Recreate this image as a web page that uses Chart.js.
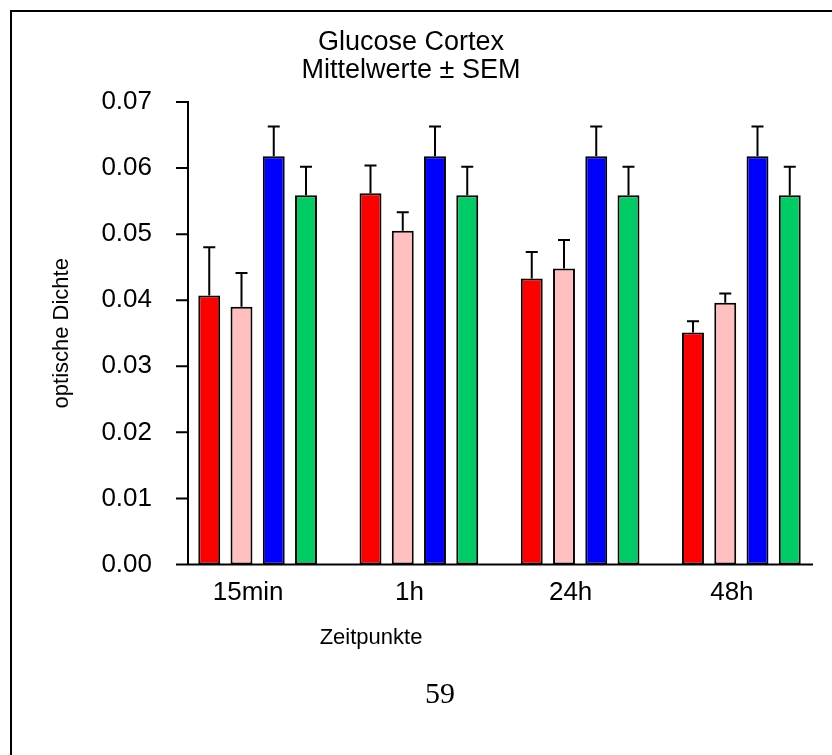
<!DOCTYPE html>
<html><head><meta charset="utf-8">
<script src="https://cdn.jsdelivr.net/npm/chart.js@4.4.1/dist/chart.umd.min.js"></script>
<style>
html,body{margin:0;padding:0;background:#fff;}
#wrap{position:relative;width:832px;height:755px;overflow:hidden;background:#fff;}
#frame{position:absolute;left:10px;top:10px;width:900px;height:900px;border-left:2px solid #000;border-top:2px solid #000;}
#page{position:absolute;left:390px;width:100px;top:676px;text-align:center;font-family:"Liberation Serif","Times New Roman",serif;font-size:30px;line-height:34px;color:#000;}
canvas{position:absolute;left:0;top:0;}
</style></head><body>
<div id="wrap"><div id="frame"></div><canvas id="c" width="832" height="755"></canvas><div id="page">59</div></div>
<script>
const categories = ['15min', '1h', '24h', '48h'];
const redValues  = [0.0407, 0.0562, 0.0433, 0.0351];
const redSem     = [0.0073, 0.0042, 0.0040, 0.0017];
const pinkValues = [0.0390, 0.0505, 0.0448, 0.0396];
const pinkSem    = [0.0051, 0.0028, 0.0043, 0.0014];
const blueValues = [0.0618, 0.0618, 0.0618, 0.0618];
const blueSem    = [0.0045, 0.0045, 0.0045, 0.0045];
const greenValues= [0.0559, 0.0559, 0.0559, 0.0559];
const greenSem   = [0.0043, 0.0043, 0.0043, 0.0043];
const yTicks = [0.00, 0.01, 0.02, 0.03, 0.04, 0.05, 0.06, 0.07];
const titleLines = ['Glucose Cortex', 'Mittelwerte \u00B1 SEM'];
const yTitle = 'optische Dichte';
const xTitle = 'Zeitpunkte';

const FONT = '"Liberation Sans", Arial, sans-serif';

const errorBars = {
  id: 'errorBars',
  afterDatasetsDraw(chart) {
    const ctx = chart.ctx, y = chart.scales.y;
    ctx.save();
    ctx.strokeStyle = '#000';
    ctx.lineWidth = 2;
    chart.data.datasets.forEach((ds, i) => {
      const meta = chart.getDatasetMeta(i);
      meta.data.forEach((bar, j) => {
        const top = y.getPixelForValue(ds.data[j] + ds.sem[j]);
        ctx.beginPath();
        ctx.moveTo(bar.x, bar.y);
        ctx.lineTo(bar.x, top);
        ctx.moveTo(bar.x - 6, top);
        ctx.lineTo(bar.x + 6, top);
        ctx.stroke();
      });
    });
    ctx.restore();
  }
};

const axesLines = {
  id: 'axesLines',
  afterDraw(chart) {
    const ctx = chart.ctx, y = chart.scales.y, a = chart.chartArea;
    const axisX = a.left + 11;
    const y0 = y.getPixelForValue(0);
    ctx.save();
    ctx.strokeStyle = '#000';
    ctx.lineWidth = 2;
    ctx.beginPath();
    ctx.moveTo(a.left - 1, y0);
    ctx.lineTo(a.right - 9, y0);
    ctx.moveTo(axisX, y.getPixelForValue(yTicks[yTicks.length - 1]) - 1);
    ctx.lineTo(axisX, y0);
    yTicks.forEach(v => {
      const py = y.getPixelForValue(v);
      ctx.moveTo(axisX - 12, py);
      ctx.lineTo(axisX, py);
    });
    ctx.stroke();
    ctx.fillStyle = '#000';
    ctx.font = '22px ' + FONT;
    ctx.textAlign = 'center';
    ctx.textBaseline = 'middle';
    ctx.fillText(xTitle, a.left + 194, 638);
    ctx.restore();
  }
};

const mk = (label, data, sem, color) => ({
  label, data, sem, backgroundColor: color, borderColor: '#000', borderWidth: 2, borderSkipped: false,
  categoryPercentage: 0.8, barPercentage: 0.68
});

new Chart(document.getElementById('c'), {
  type: 'bar',
  data: {
    labels: categories,
    datasets: [
      mk('A', redValues, redSem, '#ff0000'),
      mk('B', pinkValues, pinkSem, '#ffbfbf'),
      mk('C', blueValues, blueSem, '#0000ff'),
      mk('D', greenValues, greenSem, '#00cc66')
    ]
  },
  options: {
    responsive: false,
    animation: false,
    layout: { padding: { left: 0, right: 10, top: 0, bottom: 0 } },
    plugins: {
      legend: { display: false },
      tooltip: { enabled: false },
      title: {
        display: true, text: titleLines, color: '#000',
        font: { family: FONT, size: 27, weight: 'normal', lineHeight: 1.037 },
        padding: { top: 29, bottom: 17 }
      }
    },
    scales: {
      x: {
        grid: { display: false, drawTicks: false },
        border: { display: false },
        afterFit: s => { s.height = 190.5; },
        ticks: { color: '#000', font: { family: FONT, size: 26 }, padding: 13, labelOffset: -9.5 }
      },
      y: {
        min: 0, max: 0.07,
        grid: { display: false, drawTicks: false },
        border: { display: false },
        afterBuildTicks: s => { s.ticks = yTicks.map(v => ({ value: v })); },
        afterFit: s => { s.width = 177; },
        ticks: { color: '#000', font: { family: FONT, size: 26 }, padding: 25, callback: v => Number(v).toFixed(2) },
        title: { display: true, text: yTitle, color: '#000', font: { family: FONT, size: 22 }, padding: { top: 49, bottom: 0 } }
      }
    }
  },
  plugins: [errorBars, axesLines]
});
</script>
</body></html>
